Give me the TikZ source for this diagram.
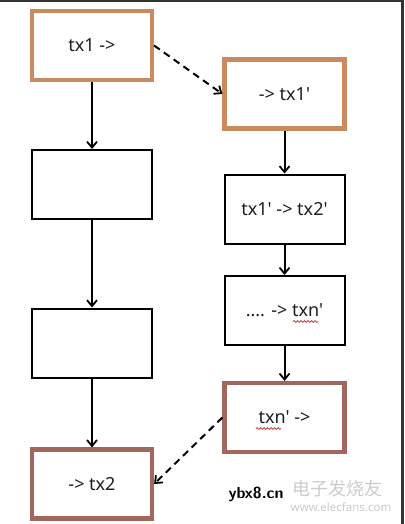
\documentclass[tikz,border=0pt]{standalone}
\usepackage{fontspec}
\setmainfont{Noto Sans}
\newfontfamily\cjkfont{Noto Sans CJK SC}
\usetikzlibrary{arrows.meta,decorations.pathmorphing}
\definecolor{orangeb}{HTML}{C98A5E}
\definecolor{brownb}{HTML}{A2675C}
\definecolor{txtc}{HTML}{1E1E1E}
\newcommand{\sq}{\textquotesingle}
\tikzset{
  box/.style={draw=black, line width=2pt, minimum width=120pt, minimum height=69pt, inner sep=0pt, fill=white, text=txtc, font=\fontsize{18}{21}\selectfont},
  obox/.style={box, draw=orangeb, line width=4.2pt},
  bbox/.style={box, draw=brownb, line width=4.2pt},
  flow/.style={line width=2pt, -{Straight Barb[length=6pt,width=10pt,line width=1.8pt]}},
  dflow/.style={flow, dash pattern=on 7pt off 5pt},
  squig/.style={draw=red!65!black!70, line width=0.8pt, decorate, decoration={snake, amplitude=1pt, segment length=3.5pt}}
}
\begin{document}
\begin{tikzpicture}[x=1pt,y=-1pt]
\useasboundingbox (0,0) rectangle (404,524);
\fill[white] (0,0) rectangle (404,524);
\fill[black!80] (0,0) rectangle (404,2);
\fill[black!80] (401,0) rectangle (404,524);
% left column
\node[obox] (a) at (92,45.5) {tx1 ->};
\node[box] (l2) at (92,184.5) {};
\node[box] (l3) at (92,343) {};
\node[bbox] (l4) at (92,484) {-> tx2};
% right column
\node[obox] (b) at (284.5,94) {-> tx1\sq};
\node[box] (r2) at (284.5,209) {tx1\sq{} -> tx2\sq};
\node[box] (r3) at (284.5,310.5) {.... -> txn\sq};
\node[bbox] (r4) at (284.5,417.5) {txn\sq{} ->};
% connectors
\draw[flow] (a) -- (l2);
\draw[flow] (l2) -- (l3);
\draw[flow] (l3) -- (l4);
\draw[flow] (b) -- (r2);
\draw[flow] (r2) -- (r3);
\draw[flow] (r3) -- (r4);
\draw[dflow] (a.east) -- (b.west);
\draw[dflow] (r4.west) -- (l4.east);
% spell-check underlines
\coordinate (s1a) at (293,321.5);
\coordinate (s1b) at (318,321.5);
\coordinate (s2a) at (256,428.5);
\coordinate (s2b) at (281,428.5);
\draw[squig] (s1a) -- (s1b);
\draw[squig] (s2a) -- (s2b);
% watermark
\node[font=\sffamily\bfseries\fontsize{16}{18}\selectfont, text=black] (wm) at (256,494) {ybx8.cn};
\node[font=\cjkfont\fontsize{18}{19}\selectfont, text=black!20] (wm2) at (337,489) {电子发烧友};
\node[font=\fontsize{11.5}{12}\selectfont, text=black!20] (wm3) at (341,507) {www.elecfans.com};
\end{tikzpicture}
\end{document}
